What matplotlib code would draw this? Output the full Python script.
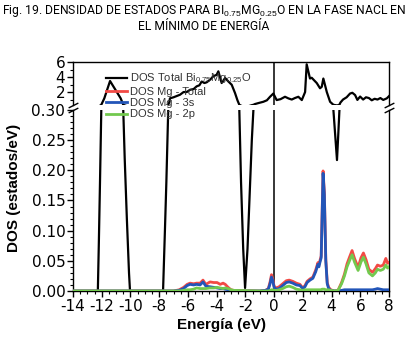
import matplotlib
matplotlib.use("Agg")
import matplotlib.pyplot as plt
from matplotlib import font_manager
from matplotlib.ticker import MultipleLocator

# DOS total (Bi0.75Mg0.25O)
tot_E = [-14, -12.4, -12.27, -12.2, -12.12, -12.03, -11.82, -11.42, -10.68, -10.5,
         -10.4, -10.25, -10.1, -10.03, -7.78, -7.73, -7.6, -7.5, -7.37, -7.3, -7.25,
         -7.0, -6.55, -6.3, -6.08, -5.85, -5.6, -5.39, -5.2, -5.04, -4.85, -4.69,
         -4.46, -4.23, -4.0, -3.88, -3.65, -3.41, -3.18, -2.95, -2.72, -2.55, -2.42,
         -2.3, -2.15, -2.02, -1.85, -1.7, -1.55, -1.44, -1.33, -1.05, -0.75, -0.5,
         -0.28, -0.05, 0.18, 0.45, 0.76, 1.0, 1.23, 1.45, 1.69, 1.93, 2.16, 2.27,
         2.5, 2.62, 2.97, 3.2, 3.32, 3.43, 3.55, 3.67, 3.9, 4.13, 4.25, 4.38, 4.47,
         4.55, 4.62, 4.8, 5.05, 5.29, 5.45, 5.64, 5.8, 5.99, 6.2, 6.4, 6.6, 6.8,
         7.0, 7.2, 7.4, 7.6, 7.85, 8.0]
tot_dos = [0, 0, 0, 0.08, 0.18, 0.30, 1.16, 3.47, 1.16, 0.30,
           0.22, 0.12, 0.03, 0, 0, 0, 0.1, 0.18, 0.30, 0.6, 1.16,
           1.3, 1.64, 2.0, 2.0, 2.3, 2.4, 2.76, 2.9, 3.4, 3.2, 3.3,
           3.64, 4.1, 4.3, 4.76, 3.2, 3.87, 3.4, 2.97, 1.87, 0.9, 0.30,
           0.18, 0.07, 0.005, 0.07, 0.16, 0.25, 0.30, 0.4, 0.55, 0.7, 0.9,
           1.37, 1.8, 0.93, 1.05, 1.37, 1.15, 1.0, 1.2, 1.37, 0.93, 2.0, 5.7,
           3.8, 3.9, 3.2, 2.5, 2.7, 3.8, 2.9, 2.0, 0.7, 0.30, 0.26, 0.217, 0.26,
           0.30, 0.6, 1.0, 1.3, 1.8, 1.9, 1.6, 0.95, 1.4, 1.0, 1.3, 1.2, 0.9,
           1.1, 1.0, 1.2, 0.95, 1.16, 1.45]

# Mg projected DOS
mg_E = [-14, -7.0, -6.6, -6.3, -6.05, -5.85, -5.6, -5.4, -5.15, -4.95, -4.75, -4.46,
        -4.2, -3.97, -3.75, -3.55, -3.4, -3.2, -3.0, -2.8, -1.0, -0.6, -0.4, -0.28,
        -0.18, -0.1, 0.0, 0.15, 0.35, 0.6, 0.85, 1.05, 1.3, 1.55, 1.8, 2.0, 2.15,
        2.3, 2.5, 2.7, 2.9, 3.05, 3.12, 3.2, 3.28, 3.34, 3.41, 3.5, 3.6, 3.7, 3.8,
        3.95, 4.2, 4.45, 4.7, 4.9, 5.08, 5.25, 5.43, 5.6, 5.85, 6.05, 6.22, 6.4,
        6.6, 6.85, 7.05, 7.2, 7.4, 7.6, 7.78, 7.9, 8.0]
mg_total = [0, 0, 0.002, 0.006, 0.011, 0.013, 0.012, 0.013, 0.013, 0.018, 0.011, 0.015,
            0.014, 0.014, 0.011, 0.013, 0.011, 0.006, 0.002, 0.001, 0.0, 0.001, 0.004, 0.015,
            0.027, 0.021, 0.008, 0.005, 0.007, 0.012, 0.017, 0.018, 0.016, 0.013, 0.011, 0.005, 0.009,
            0.016, 0.020, 0.023, 0.035, 0.047, 0.043, 0.051, 0.058, 0.124, 0.199, 0.164, 0.053, 0.014, 0.006,
            0.002, 0.0, 0.001, 0.014, 0.028, 0.045, 0.056, 0.067, 0.054, 0.039, 0.055, 0.063, 0.052,
            0.036, 0.031, 0.037, 0.043, 0.041, 0.043, 0.054, 0.046, 0.047]
mg_3s = [0, 0, 0.001, 0.004, 0.009, 0.011, 0.010, 0.011, 0.010, 0.015, 0.008, 0.007,
         0.006, 0.005, 0.004, 0.004, 0.003, 0.002, 0.001, 0.0, 0.0, 0.001, 0.003, 0.012,
         0.023, 0.018, 0.006, 0.003, 0.004, 0.009, 0.014, 0.015, 0.013, 0.010, 0.009, 0.004, 0.007,
         0.014, 0.018, 0.021, 0.032, 0.044, 0.040, 0.048, 0.055, 0.12, 0.195, 0.16, 0.05, 0.012, 0.004,
         0.001, 0.0, 0.0, 0.001, 0.002, 0.002, 0.002, 0.002, 0.002, 0.002, 0.002, 0.002, 0.002,
         0.002, 0.002, 0.003, 0.004, 0.003, 0.002, 0.002, 0.002, 0.002]
mg_2p = [0, 0, 0, 0.001, 0.002, 0.002, 0.003, 0.005, 0.004, 0.004, 0.004, 0.005,
         0.005, 0.006, 0.005, 0.004, 0.005, 0.004, 0.002, 0.001, 0.0, 0.0, 0.0, 0.001,
         0.002, 0.002, 0.001, 0.001, 0.002, 0.004, 0.007, 0.008, 0.006, 0.003, 0.002, 0.001, 0.002,
         0.002, 0.002, 0.002, 0.002, 0.002, 0.002, 0.002, 0.002, 0.003, 0.003, 0.003, 0.002, 0.002, 0.002,
         0.001, 0.0, 0.001, 0.012, 0.025, 0.040, 0.050, 0.060, 0.048, 0.034, 0.048, 0.056, 0.045,
         0.030, 0.025, 0.030, 0.036, 0.034, 0.036, 0.043, 0.038, 0.040]

xticks = list(range(-14, 9, 2))

avail = {f.name for f in font_manager.fontManager.ttflist}
title_font = "Liberation Sans Narrow" if "Liberation Sans Narrow" in avail else "Roboto"
title_size = 10 if title_font == "Liberation Sans Narrow" else 8.7

plt.rcParams["font.family"] = ["Liberation Sans", "DejaVu Sans"]
plt.rcParams["mathtext.fontset"] = "custom"
plt.rcParams["mathtext.rm"] = "Liberation Sans"
plt.rcParams["axes.unicode_minus"] = False

fig = plt.figure(figsize=(4.08, 3.38), dpi=100)
ax = fig.add_axes([0.1789, 0.1391, 0.7745, 0.5355])
ax_top = fig.add_axes([0.1789, 0.6893, 0.7745, 0.1272], sharex=ax)

c_red = "#f24a45"
c_blue = "#2255b8"
c_green = "#72c94e"

for a in (ax, ax_top):
    a.plot(tot_E, tot_dos, color="black", lw=1.6, zorder=3,
           label=r"DOS Total Bi$_{0.75}$Mg$_{0.25}$O")
    a.axvline(0, color="black", lw=1.1, zorder=2)

ax.plot(mg_E, mg_total, color=c_red, lw=2.0, zorder=4, label="DOS Mg - Total")
ax.plot(mg_E, mg_3s, color=c_blue, lw=2.0, zorder=5, label="DOS Mg - 3s")
ax.plot(mg_E, mg_2p, color=c_green, lw=2.0, zorder=6, label="DOS Mg - 2p")

ax.set_xlim(-14, 8)
ax.set_ylim(0, 0.30)
ax_top.set_ylim(0.27, 6.0)

ax.set_xticks(xticks)
ax.xaxis.set_minor_locator(MultipleLocator(0.5))
ax.set_yticks([0, 0.05, 0.10, 0.15, 0.20, 0.25, 0.30])
ax.set_yticklabels(["0.00", "0.05", "0.10", "0.15", "0.20", "0.25", "0.30"])
ax.yaxis.set_minor_locator(MultipleLocator(0.01))
ax_top.set_yticks([2, 4, 6])
ax_top.yaxis.set_minor_locator(MultipleLocator(1))

ax.spines["top"].set_visible(False)
ax_top.spines["bottom"].set_visible(False)
for a in (ax, ax_top):
    for s in a.spines.values():
        s.set_linewidth(1.0)
    a.tick_params(which="major", direction="out", length=4, width=1.0,
                  labelsize=11, pad=1.5, right=False, top=False)
    a.tick_params(which="minor", direction="out", length=2, width=0.8,
                  right=False, top=False)
    for lab in a.get_xticklabels() + a.get_yticklabels():
        lab.set_family("DejaVu Sans")
ax_top.tick_params(axis="x", which="both", bottom=False, labelbottom=False)

# break marks
kw = dict(marker=[(-1, -0.5), (1, 0.5)], markersize=7, linestyle="none",
          color="black", mec="black", mew=1.0, clip_on=False)
ax.plot([0, 1], [1, 1], transform=ax.transAxes, **kw)
ax_top.plot([0, 1], [0, 0], transform=ax_top.transAxes, **kw)

ax.set_xlabel("Energía (eV)", fontsize=11, fontweight="bold")
ax.xaxis.set_label_coords(0.47, -0.15)
ax.set_ylabel("DOS (estados/eV)", fontsize=11, fontweight="bold")
ax.yaxis.set_label_coords(-0.165, 0.57)

handles, labels = ax.get_legend_handles_labels()
fig.legend(handles, labels, loc="upper left", bbox_to_anchor=(0.245, 0.805),
           frameon=False, fontsize=8, handlelength=1.9, handletextpad=0.3,
           labelspacing=0.12, borderpad=0, labelcolor="#333333")

fig.text(0.5, 0.99, r"Fig. 19. DENSIDAD DE ESTADOS PARA BI$_{0.75}$MG$_{0.25}$O EN LA FASE NACL EN",
         ha="center", va="top", fontsize=title_size, family=title_font)
fig.text(0.5, 0.94, "EL MÍNIMO DE ENERGÍA",
         ha="center", va="top", fontsize=title_size, family=title_font)

fig.savefig("out.png", dpi=100)
